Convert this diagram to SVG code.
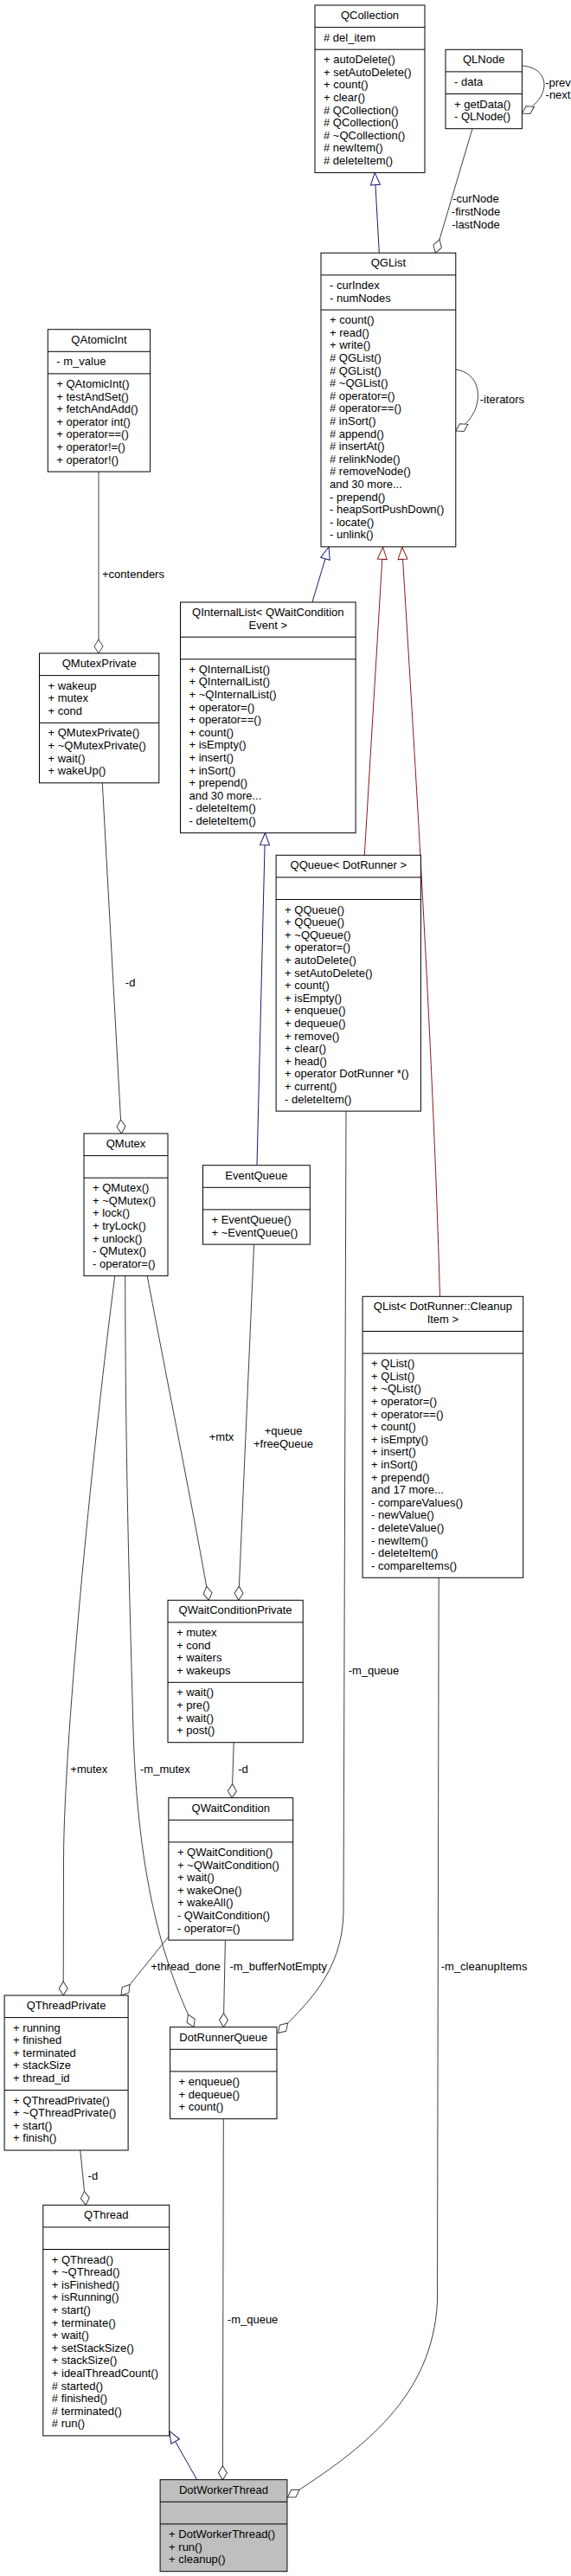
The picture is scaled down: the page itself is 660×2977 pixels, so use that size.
<svg xmlns="http://www.w3.org/2000/svg" width="660" height="2977" viewBox="0 0 660 2977">
<style>
.b{fill:#fff;stroke:#000;stroke-width:1}
.g{fill:#bfbfbf;stroke:#000;stroke-width:1}
.dv{stroke:#000;stroke-width:1}
text{font-family:"Liberation Sans",Arial,sans-serif;font-size:13px;fill:#000}
.t{text-anchor:middle}
.l{text-anchor:middle}
.e{fill:none;stroke-width:1}
.n{stroke:#191970}
.r{stroke:#8b1a1a}
.a{stroke:#404040}
</style>
<defs>
<marker id="tn" markerUnits="userSpaceOnUse" markerWidth="16" markerHeight="12" refX="0" refY="0" orient="auto" overflow="visible"><path d="M0,0 L14,-5.5 L14,5.5 Z" fill="#fff" stroke="#191970"/></marker>
<marker id="tr" markerUnits="userSpaceOnUse" markerWidth="16" markerHeight="12" refX="0" refY="0" orient="auto" overflow="visible"><path d="M0,0 L14,-5.5 L14,5.5 Z" fill="#fff" stroke="#8b1a1a"/></marker>
<marker id="dm" markerUnits="userSpaceOnUse" markerWidth="18" markerHeight="12" refX="0" refY="0" orient="auto" overflow="visible"><path d="M0,0 L8,-5 L16,0 L8,5 Z" fill="#fff" stroke="#404040"/></marker>
</defs>
<rect width="660" height="2977" fill="#fff"/>

<g id="edges">
<path class="e n" d="M433.2,199.6 L438.3,292.3" marker-start="url(#tn)"/>
<path class="e a" d="M503.4,292.3 L546,148.7" marker-start="url(#dm)"/>
<text class="l" x="550" y="234.3">-curNode</text>
<text class="l" x="550" y="248.9">-firstNode</text>
<text class="l" x="550" y="263.5">-lastNode</text>
<path class="e a" d="M603.4,131 C640,111 635,78 603.4,76" marker-start="url(#dm)"/>
<text class="l" x="645" y="100">-prev</text>
<text class="l" x="645" y="113.5">-next</text>
<path class="e a" d="M526.8,498 C560,480 562,432 526.8,427" marker-start="url(#dm)"/>
<text class="l" x="580.4" y="466">-iterators</text>
<path class="e n" d="M380,632.3 L360.9,696" marker-start="url(#tn)"/>
<path class="e r" d="M442.6,632.3 L421.3,988.3" marker-start="url(#tr)"/>
<path class="e r" d="M464.7,632.3 C478,850 500,1200 508.5,1498.3" marker-start="url(#tr)"/>
<path class="e a" d="M114,755 L114,545.1" marker-start="url(#dm)"/>
<text class="l" x="154" y="667.6">+contenders</text>
<path class="e a" d="M140.4,1310 L118.3,904.8" marker-start="url(#dm)"/>
<text class="l" x="150.6" y="1140.3">-d</text>
<path class="e n" d="M306.4,962.6 L297,1346.7" marker-start="url(#tn)"/>
<path class="e a" d="M321.5,2349.5 C352,2318 396,2280 397,2210 L400,1284.1" marker-start="url(#dm)"/>
<text class="l" x="432" y="1935.3">-m_queue</text>
<path class="e a" d="M275.7,1849.3 L293.6,1438.1" marker-start="url(#dm)"/>
<text class="l" x="327.5" y="1658.3">+queue</text>
<text class="l" x="327.5" y="1672.6">+freeQueue</text>
<path class="e a" d="M241.3,1849.3 C232,1790 190,1580 170.2,1474.4" marker-start="url(#dm)"/>
<text class="l" x="256" y="1665.3">+mtx</text>
<path class="e a" d="M73.2,2306 L73.5,2150 C74,2000 110,1650 132.8,1474.4" marker-start="url(#dm)"/>
<text class="l" x="102.8" y="2048.6">+mutex</text>
<path class="e a" d="M224,2342.7 C200,2290 160,2200 154,2000 C150,1850 145,1700 144.7,1474.4" marker-start="url(#dm)"/>
<text class="l" x="190.9" y="2048.6">-m_mutex</text>
<path class="e a" d="M268.1,2077.7 L270.2,2013.7" marker-start="url(#dm)"/>
<text class="l" x="281" y="2048.6">-d</text>
<path class="e a" d="M140,2306 L194.9,2238" marker-start="url(#dm)"/>
<text class="l" x="214.5" y="2277">+thread_done</text>
<path class="e a" d="M258.3,2342.7 L260.4,2242.1" marker-start="url(#dm)"/>
<text class="l" x="321.7" y="2277">-m_bufferNotEmpty</text>
<path class="e a" d="M257.4,2865.7 L258.3,2448.7" marker-start="url(#dm)"/>
<text class="l" x="292.1" y="2685.3">-m_queue</text>
<path class="e a" d="M332.5,2886 C420,2830 500,2770 505.5,2660 L507.2,1823.3" marker-start="url(#dm)"/>
<text class="l" x="559.6" y="2277">-m_cleanupItems</text>
<path class="e a" d="M99.1,2548.3 L92.8,2485" marker-start="url(#dm)"/>
<text class="l" x="107.4" y="2519.3">-d</text>
<path class="e n" d="M195.7,2809.3 L227.7,2865.7" marker-start="url(#tn)"/>
</g>

<g id="QCollection">
<rect class="b" x="364" y="6" width="127" height="193.6"/>
<line class="dv" x1="364" y1="31.6" x2="491" y2="31.6"/><line class="dv" x1="364" y1="57.2" x2="491" y2="57.2"/>
<text class="t" x="427.5" y="22">QCollection</text>
<text x="374" y="47.6"># del_item</text>
<text y="73.2"><tspan x="374">+ autoDelete()</tspan><tspan x="374" dy="14.6">+ setAutoDelete()</tspan><tspan x="374" dy="14.6">+ count()</tspan><tspan x="374" dy="14.6">+ clear()</tspan><tspan x="374" dy="14.6"># QCollection()</tspan><tspan x="374" dy="14.6"># QCollection()</tspan><tspan x="374" dy="14.6"># ~QCollection()</tspan><tspan x="374" dy="14.6"># newItem()</tspan><tspan x="374" dy="14.6"># deleteItem()</tspan></text>
</g>

<g id="QLNode">
<rect class="b" x="515" y="57.3" width="88.4" height="91.4"/>
<line class="dv" x1="515" y1="82.9" x2="603.4" y2="82.9"/><line class="dv" x1="515" y1="108.5" x2="603.4" y2="108.5"/>
<text class="t" x="559.2" y="73.3">QLNode</text>
<text x="525" y="98.9">- data</text>
<text y="124.5"><tspan x="525">+ getData()</tspan><tspan x="525" dy="14.6">- QLNode()</tspan></text>
</g>

<g id="QGList">
<rect class="b" x="371" y="292.3" width="155.8" height="339.6"/>
<line class="dv" x1="371" y1="317.9" x2="526.8" y2="317.9"/><line class="dv" x1="371" y1="358.1" x2="526.8" y2="358.1"/>
<text class="t" x="448.9" y="308.3">QGList</text>
<text y="333.9"><tspan x="381">- curIndex</tspan><tspan x="381" dy="14.6">- numNodes</tspan></text>
<text y="374.1"><tspan x="381">+ count()</tspan><tspan x="381" dy="14.6">+ read()</tspan><tspan x="381" dy="14.6">+ write()</tspan><tspan x="381" dy="14.6"># QGList()</tspan><tspan x="381" dy="14.6"># QGList()</tspan><tspan x="381" dy="14.6"># ~QGList()</tspan><tspan x="381" dy="14.6"># operator=()</tspan><tspan x="381" dy="14.6"># operator==()</tspan><tspan x="381" dy="14.6"># inSort()</tspan><tspan x="381" dy="14.6"># append()</tspan><tspan x="381" dy="14.6"># insertAt()</tspan><tspan x="381" dy="14.6"># relinkNode()</tspan><tspan x="381" dy="14.6"># removeNode()</tspan><tspan x="381" dy="14.6">and 30 more...</tspan><tspan x="381" dy="14.6">- prepend()</tspan><tspan x="381" dy="14.6">- heapSortPushDown()</tspan><tspan x="381" dy="14.6">- locate()</tspan><tspan x="381" dy="14.6">- unlink()</tspan></text>
</g>

<g id="QAtomicInt">
<rect class="b" x="55.3" y="380.7" width="118.3" height="164.4"/>
<line class="dv" x1="55.3" y1="406.3" x2="173.6" y2="406.3"/><line class="dv" x1="55.3" y1="431.9" x2="173.6" y2="431.9"/>
<text class="t" x="114.5" y="396.7">QAtomicInt</text>
<text x="65.3" y="422.3">- m_value</text>
<text y="447.9"><tspan x="65.3">+ QAtomicInt()</tspan><tspan x="65.3" dy="14.6">+ testAndSet()</tspan><tspan x="65.3" dy="14.6">+ fetchAndAdd()</tspan><tspan x="65.3" dy="14.6">+ operator int()</tspan><tspan x="65.3" dy="14.6">+ operator==()</tspan><tspan x="65.3" dy="14.6">+ operator!=()</tspan><tspan x="65.3" dy="14.6">+ operator!()</tspan></text>
</g>

<g id="QInternalList">
<rect class="b" x="208.5" y="696" width="202.6" height="266.6"/>
<line class="dv" x1="208.5" y1="736.2" x2="411.1" y2="736.2"/><line class="dv" x1="208.5" y1="761.8" x2="411.1" y2="761.8"/>
<text class="t" y="712"><tspan x="309.8">QInternalList&lt; QWaitCondition</tspan><tspan x="309.8" dy="14.6">Event &gt;</tspan></text>
<text y="777.8"><tspan x="218.5">+ QInternalList()</tspan><tspan x="218.5" dy="14.6">+ QInternalList()</tspan><tspan x="218.5" dy="14.6">+ ~QInternalList()</tspan><tspan x="218.5" dy="14.6">+ operator=()</tspan><tspan x="218.5" dy="14.6">+ operator==()</tspan><tspan x="218.5" dy="14.6">+ count()</tspan><tspan x="218.5" dy="14.6">+ isEmpty()</tspan><tspan x="218.5" dy="14.6">+ insert()</tspan><tspan x="218.5" dy="14.6">+ inSort()</tspan><tspan x="218.5" dy="14.6">+ prepend()</tspan><tspan x="218.5" dy="14.6">and 30 more...</tspan><tspan x="218.5" dy="14.6">- deleteItem()</tspan><tspan x="218.5" dy="14.6">- deleteItem()</tspan></text>
</g>

<g id="QMutexPrivate">
<rect class="b" x="45.5" y="755" width="138.3" height="149.8"/>
<line class="dv" x1="45.5" y1="780.6" x2="183.8" y2="780.6"/><line class="dv" x1="45.5" y1="835.4" x2="183.8" y2="835.4"/>
<text class="t" x="114.7" y="771">QMutexPrivate</text>
<text y="796.6"><tspan x="55.5">+ wakeup</tspan><tspan x="55.5" dy="14.6">+ mutex</tspan><tspan x="55.5" dy="14.6">+ cond</tspan></text>
<text y="851.4"><tspan x="55.5">+ QMutexPrivate()</tspan><tspan x="55.5" dy="14.6">+ ~QMutexPrivate()</tspan><tspan x="55.5" dy="14.6">+ wait()</tspan><tspan x="55.5" dy="14.6">+ wakeUp()</tspan></text>
</g>

<g id="QQueue">
<rect class="b" x="319.1" y="988.3" width="167.3" height="295.8"/>
<line class="dv" x1="319.1" y1="1013.9" x2="486.4" y2="1013.9"/><line class="dv" x1="319.1" y1="1039.5" x2="486.4" y2="1039.5"/>
<text class="t" x="402.8" y="1004.3">QQueue&lt; DotRunner &gt;</text>
<text y="1055.5"><tspan x="329.1">+ QQueue()</tspan><tspan x="329.1" dy="14.6">+ QQueue()</tspan><tspan x="329.1" dy="14.6">+ ~QQueue()</tspan><tspan x="329.1" dy="14.6">+ operator=()</tspan><tspan x="329.1" dy="14.6">+ autoDelete()</tspan><tspan x="329.1" dy="14.6">+ setAutoDelete()</tspan><tspan x="329.1" dy="14.6">+ count()</tspan><tspan x="329.1" dy="14.6">+ isEmpty()</tspan><tspan x="329.1" dy="14.6">+ enqueue()</tspan><tspan x="329.1" dy="14.6">+ dequeue()</tspan><tspan x="329.1" dy="14.6">+ remove()</tspan><tspan x="329.1" dy="14.6">+ clear()</tspan><tspan x="329.1" dy="14.6">+ head()</tspan><tspan x="329.1" dy="14.6">+ operator DotRunner *()</tspan><tspan x="329.1" dy="14.6">+ current()</tspan><tspan x="329.1" dy="14.6">- deleteItem()</tspan></text>
</g>

<g id="QMutex">
<rect class="b" x="97" y="1310" width="97" height="164.4"/>
<line class="dv" x1="97" y1="1335.6" x2="194" y2="1335.6"/><line class="dv" x1="97" y1="1361.2" x2="194" y2="1361.2"/>
<text class="t" x="145.5" y="1326">QMutex</text>
<text y="1377.2"><tspan x="107">+ QMutex()</tspan><tspan x="107" dy="14.6">+ ~QMutex()</tspan><tspan x="107" dy="14.6">+ lock()</tspan><tspan x="107" dy="14.6">+ tryLock()</tspan><tspan x="107" dy="14.6">+ unlock()</tspan><tspan x="107" dy="14.6">- QMutex()</tspan><tspan x="107" dy="14.6">- operator=()</tspan></text>
</g>

<g id="EventQueue">
<rect class="b" x="234.5" y="1346.7" width="123.8" height="91.4"/>
<line class="dv" x1="234.5" y1="1372.3" x2="358.3" y2="1372.3"/><line class="dv" x1="234.5" y1="1397.9" x2="358.3" y2="1397.9"/>
<text class="t" x="296.4" y="1362.7">EventQueue</text>
<text y="1413.9"><tspan x="244.5">+ EventQueue()</tspan><tspan x="244.5" dy="14.6">+ ~EventQueue()</tspan></text>
</g>

<g id="QListCleanupItem">
<rect class="b" x="419.1" y="1498.3" width="185.6" height="325"/>
<line class="dv" x1="419.1" y1="1538.5" x2="604.7" y2="1538.5"/><line class="dv" x1="419.1" y1="1564.1" x2="604.7" y2="1564.1"/>
<text class="t" y="1514.3"><tspan x="511.9">QList&lt; DotRunner::Cleanup</tspan><tspan x="511.9" dy="14.6">Item &gt;</tspan></text>
<text y="1580.1"><tspan x="429.1">+ QList()</tspan><tspan x="429.1" dy="14.6">+ QList()</tspan><tspan x="429.1" dy="14.6">+ ~QList()</tspan><tspan x="429.1" dy="14.6">+ operator=()</tspan><tspan x="429.1" dy="14.6">+ operator==()</tspan><tspan x="429.1" dy="14.6">+ count()</tspan><tspan x="429.1" dy="14.6">+ isEmpty()</tspan><tspan x="429.1" dy="14.6">+ insert()</tspan><tspan x="429.1" dy="14.6">+ inSort()</tspan><tspan x="429.1" dy="14.6">+ prepend()</tspan><tspan x="429.1" dy="14.6">and 17 more...</tspan><tspan x="429.1" dy="14.6">- compareValues()</tspan><tspan x="429.1" dy="14.6">- newValue()</tspan><tspan x="429.1" dy="14.6">- deleteValue()</tspan><tspan x="429.1" dy="14.6">- newItem()</tspan><tspan x="429.1" dy="14.6">- deleteItem()</tspan><tspan x="429.1" dy="14.6">- compareItems()</tspan></text>
</g>

<g id="QWaitConditionPrivate">
<rect class="b" x="194" y="1849.3" width="156.2" height="164.4"/>
<line class="dv" x1="194" y1="1874.9" x2="350.2" y2="1874.9"/><line class="dv" x1="194" y1="1944.3" x2="350.2" y2="1944.3"/>
<text class="t" x="272.1" y="1865.3">QWaitConditionPrivate</text>
<text y="1890.9"><tspan x="204">+ mutex</tspan><tspan x="204" dy="14.6">+ cond</tspan><tspan x="204" dy="14.6">+ waiters</tspan><tspan x="204" dy="14.6">+ wakeups</tspan></text>
<text y="1960.3"><tspan x="204">+ wait()</tspan><tspan x="204" dy="14.6">+ pre()</tspan><tspan x="204" dy="14.6">+ wait()</tspan><tspan x="204" dy="14.6">+ post()</tspan></text>
</g>

<g id="QWaitCondition">
<rect class="b" x="194.9" y="2077.7" width="143.8" height="164.4"/>
<line class="dv" x1="194.9" y1="2103.3" x2="338.7" y2="2103.3"/><line class="dv" x1="194.9" y1="2128.9" x2="338.7" y2="2128.9"/>
<text class="t" x="266.8" y="2093.7">QWaitCondition</text>
<text y="2144.9"><tspan x="204.9">+ QWaitCondition()</tspan><tspan x="204.9" dy="14.6">+ ~QWaitCondition()</tspan><tspan x="204.9" dy="14.6">+ wait()</tspan><tspan x="204.9" dy="14.6">+ wakeOne()</tspan><tspan x="204.9" dy="14.6">+ wakeAll()</tspan><tspan x="204.9" dy="14.6">- QWaitCondition()</tspan><tspan x="204.9" dy="14.6">- operator=()</tspan></text>
</g>

<g id="QThreadPrivate">
<rect class="b" x="5.1" y="2306" width="143" height="179"/>
<line class="dv" x1="5.1" y1="2331.6" x2="148.1" y2="2331.6"/><line class="dv" x1="5.1" y1="2415.6" x2="148.1" y2="2415.6"/>
<text class="t" x="76.6" y="2322">QThreadPrivate</text>
<text y="2347.6"><tspan x="15.1">+ running</tspan><tspan x="15.1" dy="14.6">+ finished</tspan><tspan x="15.1" dy="14.6">+ terminated</tspan><tspan x="15.1" dy="14.6">+ stackSize</tspan><tspan x="15.1" dy="14.6">+ thread_id</tspan></text>
<text y="2431.6"><tspan x="15.1">+ QThreadPrivate()</tspan><tspan x="15.1" dy="14.6">+ ~QThreadPrivate()</tspan><tspan x="15.1" dy="14.6">+ start()</tspan><tspan x="15.1" dy="14.6">+ finish()</tspan></text>
</g>

<g id="DotRunnerQueue">
<rect class="b" x="196.6" y="2342.7" width="123.4" height="106"/>
<line class="dv" x1="196.6" y1="2368.3" x2="320" y2="2368.3"/><line class="dv" x1="196.6" y1="2393.9" x2="320" y2="2393.9"/>
<text class="t" x="258.3" y="2358.7">DotRunnerQueue</text>
<text y="2409.9"><tspan x="206.6">+ enqueue()</tspan><tspan x="206.6" dy="14.6">+ dequeue()</tspan><tspan x="206.6" dy="14.6">+ count()</tspan></text>
</g>

<g id="QThread">
<rect class="b" x="49.8" y="2548.3" width="145.9" height="266.6"/>
<line class="dv" x1="49.8" y1="2573.9" x2="195.7" y2="2573.9"/><line class="dv" x1="49.8" y1="2599.5" x2="195.7" y2="2599.5"/>
<text class="t" x="122.75" y="2564.3">QThread</text>
<text y="2615.5"><tspan x="59.8">+ QThread()</tspan><tspan x="59.8" dy="14.6">+ ~QThread()</tspan><tspan x="59.8" dy="14.6">+ isFinished()</tspan><tspan x="59.8" dy="14.6">+ isRunning()</tspan><tspan x="59.8" dy="14.6">+ start()</tspan><tspan x="59.8" dy="14.6">+ terminate()</tspan><tspan x="59.8" dy="14.6">+ wait()</tspan><tspan x="59.8" dy="14.6">+ setStackSize()</tspan><tspan x="59.8" dy="14.6">+ stackSize()</tspan><tspan x="59.8" dy="14.6">+ idealThreadCount()</tspan><tspan x="59.8" dy="14.6"># started()</tspan><tspan x="59.8" dy="14.6"># finished()</tspan><tspan x="59.8" dy="14.6"># terminated()</tspan><tspan x="59.8" dy="14.6"># run()</tspan></text>
</g>

<g id="DotWorkerThread">
<rect class="g" x="185.1" y="2865.7" width="146.8" height="106"/>
<line class="dv" x1="185.1" y1="2891.3" x2="331.9" y2="2891.3"/><line class="dv" x1="185.1" y1="2916.9" x2="331.9" y2="2916.9"/>
<text class="t" x="258.5" y="2881.7">DotWorkerThread</text>
<text y="2932.9"><tspan x="195.1">+ DotWorkerThread()</tspan><tspan x="195.1" dy="14.6">+ run()</tspan><tspan x="195.1" dy="14.6">+ cleanup()</tspan></text>
</g>
</svg>
